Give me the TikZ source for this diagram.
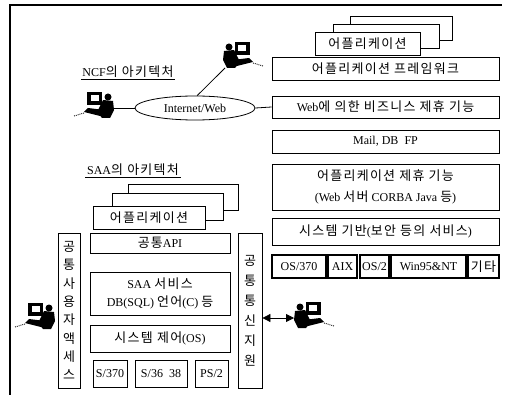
\documentclass[tikz,border=0pt]{standalone}
\usepackage{fontspec}
\setmainfont{Liberation Serif}
\newfontfamily\kr[LetterSpace=10,Scale=1.08]{Noto Sans CJK KR}
\newfontfamily\krv[Scale=1.08]{Noto Sans CJK KR}
\usetikzlibrary{shapes.geometric,arrows.meta}
% panel given by its corners: [style]{name}{x1}{y1}{x2}{y2}{text}
\newcommand\mkpanel[7][box]{%
  \node[#1, minimum width={(#5-#3)*1pt}, minimum height={(#6-#4)*1pt}]
    (#2) at ({(#3+#5)/2},{(#4+#6)/2}) {#7};}
\begin{document}
\begin{tikzpicture}[x=1pt,y=-1pt,
  every node/.style={font=\fontsize{12pt}{14pt}\selectfont},
  box/.style={draw, line width=0.8pt, fill=white, inner sep=0pt, align=center},
  osbox/.style={box, line width=1.1pt},
  title/.style={inner sep=1.5pt},
  link/.style={line width=0.8pt},
  station/.pic={
    % monitor with pale screen
    \fill (0,-16) rectangle (15,-3);
    \fill[white] (3,-13) rectangle (11,-7);
    % operator: head and hunched body
    \fill (-6,-11) circle (3.5);
    \fill (-11,-7) -- (-1,-8) -- (2,-2) -- (5,4) -- (0,10) -- (-8,10) -- (-12,2) -- cycle;
    % desk with keyboard
    \fill (-2,2) -- (14,0) -- (18,4) -- (2,8) -- cycle;
    % cable
    \draw[densely dotted, line width=0.9pt] (18,5) -- (28,8);
    \coordinate (-w) at (-12,0);
    \coordinate (-sw) at (-10,10);
  }
]
\useasboundingbox (0,0) rectangle (508,395);

% frame
\draw[line width=1.2pt] (10,395) -- (10,5) -- (502,5);

% ---------- NCF ----------
\node[title, anchor=base] (ncft) at (128,77) {NCF{\kr 의 아키텍처}};
\draw[link] (ncft.south west) -- (ncft.south east);

\pic[xscale=-1] (ws1) at (102,108) {station};
\pic (ws2) at (235,58) {station};

\node[draw, ellipse, line width=0.8pt, minimum width=120pt, minimum height=24pt,
      inner sep=0pt] (net) at (195,108) {Internet/Web};

% application stack
\mkpanel{appc}{350}{16}{452}{40}{}
\mkpanel{appb}{333}{24}{439}{48}{}
\mkpanel{appa}{315}{32}{420}{55}{{\kr 어플리케이션}}

\mkpanel{fw}{272}{57}{499}{80}{{\kr 어플리케이션 프레임워크}}
\mkpanel{web}{272}{96}{499}{118}{Web{\kr 에 의한 비즈니스 제휴 기능}}
\mkpanel{mail}{272}{130}{499}{153}{Mail, DB\enspace FP}
\mkpanel[box, font=\fontsize{12pt}{21pt}\selectfont]{coop}{272}{164}{499}{210}%
  {{\kr 어플리케이션 제휴 기능}\\(Web {\kr 서버} CORBA Java {\kr 등})}
\mkpanel{base}{272}{218}{499}{245}{{\kr 시스템 기반}({\kr 보안 등의 서비스})}

\mkpanel[osbox]{os370}{272}{255}{326}{278}{OS/370}
\mkpanel[osbox]{aix}{328}{255}{357}{278}{AIX}
\mkpanel[osbox]{os2}{360}{255}{389}{278}{OS/2}
\mkpanel[osbox]{win}{391}{255}{466}{278}{Win95\&NT}
\mkpanel[osbox]{etc}{468}{255}{499}{278}{{\kr 기타}}

\draw[link] (ws1-w) -- (net.west);
\draw[link] (net.80) -- (ws2-sw);
\draw[link] (net.east) -- (web.west);

% ---------- SAA ----------
\node[title, anchor=base] (saat) at (133,175) {SAA{\kr 의 아키텍처}};
\draw[link] (saat.south west) -- (saat.south east);

\mkpanel{sappc}{128}{184}{238}{210}{}
\mkpanel{sappb}{112}{193}{223}{220}{}
\mkpanel{sappa}{93}{206}{205}{229}{{\kr 어플리케이션}}

\mkpanel[box, font=\krv\fontsize{12pt}{18.3pt}\selectfont]{ucs}{58}{233}{80}{388}%
  {공\\통\\사\\용\\자\\액\\세\\스}
\mkpanel{api}{90}{233}{230}{253}{{\kr 공통}API}
\mkpanel[box, font=\fontsize{12pt}{18pt}\selectfont]{svc}{90}{272}{230}{315}%
  {SAA {\kr 서비스}\\DB(SQL) {\kr 언어}(C) {\kr 등}}
\mkpanel{ctl}{90}{325}{230}{352}{{\kr 시스템 제어}(OS)}
\mkpanel{s370}{93}{360}{127}{387}{S/370}
\mkpanel{s36}{135}{360}{187}{387}{S/36\enspace 38}
\mkpanel{ps2}{195}{360}{228}{387}{PS/2}
\mkpanel[box, font=\krv\fontsize{12pt}{20pt}\selectfont]{comm}{238}{233}{262}{388}%
  {공\\통\\통\\신\\지\\원}

\pic[xscale=-1] (ws3) at (43,319) {station};
\pic (ws4) at (306,318) {station};

\draw[link, {Triangle[length=8pt,width=8pt]}-{Triangle[length=8pt,width=8pt]}]
  (comm.east |- ws4-w) -- (ws4-w);
\end{tikzpicture}
\end{document}
